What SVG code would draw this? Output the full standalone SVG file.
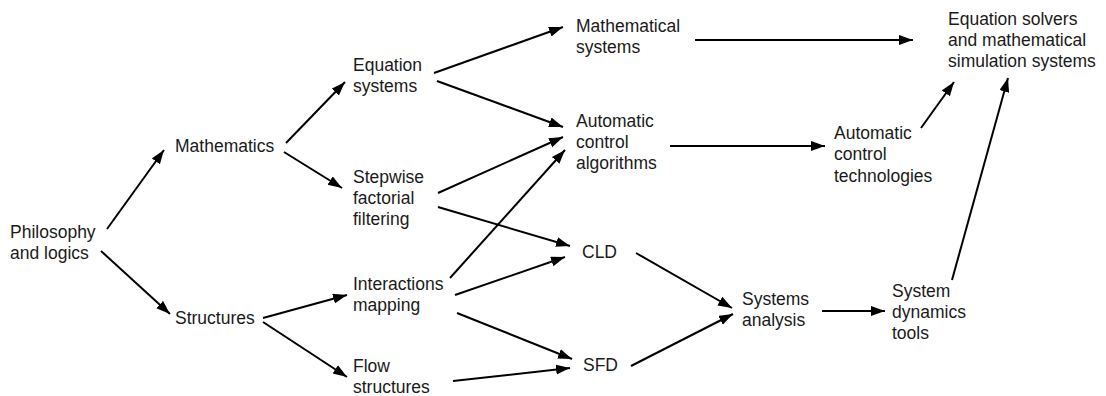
<svg xmlns="http://www.w3.org/2000/svg" width="1106" height="396" viewBox="0 0 1106 396">
<style>
text{font-family:"Liberation Sans",Arial,sans-serif;font-size:17.5px;fill:#1a1a1a}
.c line{stroke:#000;stroke-width:2;marker-end:url(#ah)}
</style>
<defs>
<marker id="ah" markerUnits="userSpaceOnUse" markerWidth="15" markerHeight="11" refX="14" refY="5" orient="auto">
<path d="M0,0 L14,5 L0,10 z" fill="#000"/>
</marker>
</defs>
<rect width="1106" height="396" fill="#fff"/>
<g id="n-philosophy"><text x="10" y="238">Philosophy</text><text x="10" y="259">and logics</text></g>
<g id="n-mathematics"><text x="175" y="152">Mathematics</text></g>
<g id="n-structures"><text x="175" y="324">Structures</text></g>
<g id="n-equation"><text x="353" y="71">Equation</text><text x="353" y="92">systems</text></g>
<g id="n-stepwise"><text x="353" y="183">Stepwise</text><text x="353" y="204">factorial</text><text x="353" y="225">filtering</text></g>
<g id="n-interactions"><text x="353" y="290">Interactions</text><text x="353" y="311">mapping</text></g>
<g id="n-flow"><text x="353" y="372">Flow</text><text x="353" y="393">structures</text></g>
<g id="n-mathsys"><text x="576" y="32">Mathematical</text><text x="576" y="53">systems</text></g>
<g id="n-aca"><text x="576" y="127">Automatic</text><text x="576" y="148">control</text><text x="576" y="169">algorithms</text></g>
<g id="n-act"><text x="834" y="139">Automatic</text><text x="834" y="160">control</text><text x="834" y="182">technologies</text></g>
<g id="n-cld"><text x="582" y="258">CLD</text></g>
<g id="n-sfd"><text x="583" y="371">SFD</text></g>
<g id="n-sysanalysis"><text x="742" y="305">Systems</text><text x="742" y="326">analysis</text></g>
<g id="n-sdtools"><text x="892" y="297">System</text><text x="892" y="318">dynamics</text><text x="892" y="339">tools</text></g>
<g id="n-solvers"><text x="948" y="25">Equation solvers</text><text x="948" y="46">and mathematical</text><text x="948" y="67">simulation systems</text></g>
<g id="connectors" class="c">
<line x1="107" y1="229" x2="164" y2="150"/>
<line x1="101" y1="251" x2="170" y2="314"/>
<line x1="286" y1="143" x2="345" y2="82"/>
<line x1="284" y1="152" x2="342" y2="188"/>
<line x1="434" y1="73" x2="563" y2="27"/>
<line x1="437" y1="81" x2="563" y2="127"/>
<line x1="438" y1="193" x2="563" y2="137"/>
<line x1="450" y1="278" x2="565" y2="150"/>
<line x1="438" y1="207" x2="570" y2="246"/>
<line x1="455" y1="295" x2="565" y2="257"/>
<line x1="457" y1="313" x2="572" y2="359"/>
<line x1="453" y1="381" x2="570" y2="368"/>
<line x1="263" y1="318" x2="347" y2="295"/>
<line x1="263" y1="322" x2="347" y2="377"/>
<line x1="695" y1="40" x2="913" y2="40"/>
<line x1="670" y1="146" x2="825" y2="146"/>
<line x1="921" y1="128" x2="954" y2="82"/>
<line x1="636" y1="253" x2="732" y2="308"/>
<line x1="631" y1="366" x2="733" y2="314"/>
<line x1="822" y1="311" x2="885" y2="311"/>
<line x1="952" y1="280" x2="1008" y2="78"/>
</g>
</svg>
